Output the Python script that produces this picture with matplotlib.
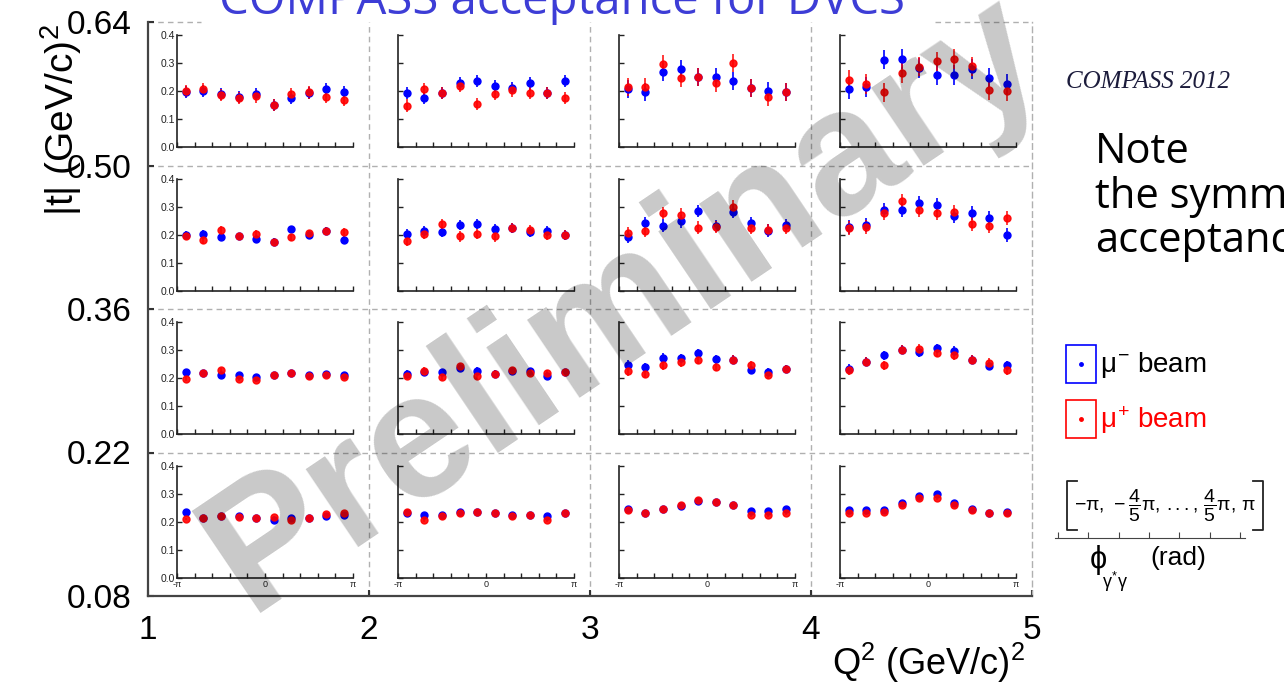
import numpy as np
import matplotlib
matplotlib.use("Agg")
import matplotlib.pyplot as plt
from matplotlib.patches import Rectangle
from matplotlib.lines import Line2D

plt.rcParams['font.family'] = ['Liberation Sans', 'DejaVu Sans']
plt.rcParams['mathtext.fontset'] = 'custom'
plt.rcParams['mathtext.rm'] = 'Liberation Sans'
plt.rcParams['mathtext.it'] = 'Liberation Sans'

# bins
q2_edges = [1, 2, 3, 4, 5]
t_edges = [0.08, 0.22, 0.36, 0.50, 0.64]
phi_centers = np.array([-0.9, -0.7, -0.5, -0.3, -0.1, 0.1, 0.3, 0.5, 0.7, 0.9]) * np.pi

# acceptance, one list per Q2 bin; rows from highest |t| to lowest
minus_t1 = [
    [0.196, 0.200, 0.190, 0.179, 0.190, 0.150, 0.174, 0.194, 0.208, 0.196],
    [0.194, 0.174, 0.193, 0.229, 0.237, 0.217, 0.210, 0.227, 0.193, 0.235],
    [0.208, 0.198, 0.269, 0.279, 0.251, 0.251, 0.236, 0.210, 0.200, 0.196],
    [0.207, 0.214, 0.312, 0.314, 0.283, 0.257, 0.257, 0.279, 0.248, 0.225],
]
plus_t1 = [
    [0.199, 0.208, 0.185, 0.174, 0.181, 0.150, 0.189, 0.195, 0.180, 0.167],
    [0.148, 0.207, 0.193, 0.218, 0.154, 0.189, 0.202, 0.192, 0.193, 0.174],
    [0.215, 0.215, 0.295, 0.248, 0.251, 0.230, 0.299, 0.210, 0.179, 0.196],
    [0.240, 0.226, 0.195, 0.264, 0.287, 0.306, 0.315, 0.288, 0.204, 0.200],
]
minus_t2 = [
    [0.199, 0.202, 0.192, 0.193, 0.183, 0.175, 0.219, 0.198, 0.213, 0.180],
    [0.202, 0.214, 0.210, 0.234, 0.238, 0.219, 0.223, 0.210, 0.214, 0.197],
    [0.190, 0.240, 0.232, 0.247, 0.283, 0.230, 0.282, 0.240, 0.214, 0.234],
    [0.226, 0.235, 0.286, 0.289, 0.313, 0.306, 0.267, 0.276, 0.259, 0.197],
]
plus_t2 = [
    [0.193, 0.180, 0.216, 0.193, 0.202, 0.172, 0.190, 0.204, 0.213, 0.210],
    [0.177, 0.202, 0.239, 0.193, 0.203, 0.193, 0.223, 0.216, 0.199, 0.197],
    [0.205, 0.214, 0.277, 0.271, 0.225, 0.228, 0.300, 0.223, 0.217, 0.225],
    [0.222, 0.228, 0.277, 0.320, 0.289, 0.277, 0.279, 0.238, 0.232, 0.258],
]
minus_t3 = [
    [0.222, 0.217, 0.212, 0.211, 0.203, 0.210, 0.218, 0.210, 0.216, 0.212],
    [0.216, 0.220, 0.220, 0.235, 0.226, 0.216, 0.224, 0.224, 0.209, 0.222],
    [0.248, 0.240, 0.273, 0.271, 0.290, 0.268, 0.266, 0.228, 0.222, 0.233],
    [0.234, 0.259, 0.281, 0.301, 0.292, 0.306, 0.297, 0.266, 0.243, 0.246],
]
plus_t3 = [
    [0.198, 0.217, 0.227, 0.198, 0.193, 0.210, 0.218, 0.207, 0.211, 0.205],
    [0.209, 0.226, 0.204, 0.243, 0.209, 0.216, 0.229, 0.218, 0.217, 0.222],
    [0.224, 0.215, 0.245, 0.256, 0.264, 0.241, 0.266, 0.246, 0.211, 0.233],
    [0.227, 0.259, 0.246, 0.301, 0.305, 0.290, 0.281, 0.266, 0.255, 0.228],
]
minus_t4 = [
    [0.233, 0.211, 0.220, 0.219, 0.214, 0.205, 0.214, 0.211, 0.220, 0.224],
    [0.230, 0.225, 0.225, 0.235, 0.235, 0.230, 0.225, 0.225, 0.220, 0.230],
    [0.243, 0.232, 0.245, 0.257, 0.275, 0.268, 0.260, 0.239, 0.239, 0.245],
    [0.240, 0.240, 0.240, 0.265, 0.290, 0.300, 0.265, 0.245, 0.230, 0.235],
]
plus_t4 = [
    [0.209, 0.211, 0.220, 0.215, 0.214, 0.216, 0.204, 0.211, 0.227, 0.230],
    [0.235, 0.205, 0.220, 0.230, 0.235, 0.230, 0.220, 0.225, 0.205, 0.230],
    [0.240, 0.232, 0.245, 0.260, 0.278, 0.268, 0.260, 0.225, 0.225, 0.230],
    [0.230, 0.230, 0.235, 0.260, 0.285, 0.285, 0.260, 0.240, 0.230, 0.230],
]
# typical error bar half-length per Q2 bin
err_t1 = [0.022, 0.022, 0.032, 0.035]
err_t2 = [0.013, 0.018, 0.022, 0.025]
err_t3 = [0.008, 0.012, 0.015, 0.016]
err_t4 = [0.005, 0.006, 0.008, 0.008]

W, H = 1284, 685


def fx(px):
    return px / W


def fy(py):
    return 1 - py / H


fig = plt.figure(figsize=(12.84, 6.85), dpi=100)
ax = fig.add_axes([fx(148), fy(596), (1032 - 148) / W, (596 - 22) / H])
ax.set_xlim(q2_edges[0], q2_edges[-1])
ax.set_ylim(t_edges[0], t_edges[-1])
ax.set_xticks(q2_edges)
ax.set_yticks(t_edges)
ax.set_yticklabels([f'{v:.2f}' for v in t_edges])
ax.tick_params(direction='in', length=4, width=1.5, labelsize=24, color='#333333')
ax.tick_params(axis='y', pad=12)
ax.tick_params(axis='x', pad=14)
for s in ['left', 'bottom']:
    ax.spines[s].set_color('#444444')
    ax.spines[s].set_linewidth(1.6)
ax.spines['top'].set_visible(False)
ax.spines['right'].set_linestyle((0, (4, 3)))
ax.spines['right'].set_color('#b0b0b0')
ax.spines['right'].set_linewidth(1)

dash = dict(color='#b0b0b0', lw=1, linestyle=(0, (4, 3)), zorder=0)
for q in q2_edges[1:-1]:
    ax.axvline(q, **dash)
for t in t_edges[1:-1]:
    ax.axhline(t, **dash)
ax.axhline(t_edges[-1], xmax=0.06, clip_on=False, **dash)
ax.axhline(t_edges[-1], xmin=0.89, clip_on=False, **dash)

rows = [(minus_t1, plus_t1, err_t1), (minus_t2, plus_t2, err_t2),
        (minus_t3, plus_t3, err_t3), (minus_t4, plus_t4, err_t4)]
phi_ticks = np.linspace(-np.pi, np.pi, 11)

for r, (mm, pp, ee) in enumerate(rows):
    t_lo = t_edges[3 - r]
    for c in range(4):
        q_lo = q2_edges[c]
        iax = ax.inset_axes([q_lo + 0.131, t_lo + 0.018, 0.796, 0.1093], transform=ax.transData)
        iax.set_facecolor('none')
        iax.errorbar(phi_centers, mm[c], yerr=ee[c], fmt='o', color='#0000ff', ms=5,
                     elinewidth=1.2, capsize=0)
        iax.errorbar(phi_centers, pp[c], yerr=ee[c], fmt='o', color='#ff0000', ms=5,
                     elinewidth=1.2, capsize=0, alpha=0.9)
        iax.set_xlim(-np.pi, np.pi)
        iax.set_ylim(0, 0.4)
        iax.set_xticks(phi_ticks)
        iax.set_yticks([0, 0.1, 0.2, 0.3, 0.4])
        for s in ['top', 'right']:
            iax.spines[s].set_visible(False)
        for s in ['left', 'bottom']:
            iax.spines[s].set_color('#222222')
            iax.spines[s].set_linewidth(1.2)
        iax.tick_params(direction='in', length=3.5, width=1, colors='#222222', labelsize=7.5, pad=1.5)
        if c == 0:
            iax.set_yticklabels(['0.0', '0.1', '0.2', '0.3', '0.4'])
        else:
            iax.set_yticklabels([])
        if r == 3:
            labs = [''] * 11
            labs[0], labs[5], labs[10] = '-π', '0', 'π'
            iax.set_xticklabels(labs, fontsize=6.5)
        else:
            iax.set_xticklabels([])

# axis titles
fig.text(fx(61), fy(120), r'|t| (GeV/c)$^2$', rotation=90, fontsize=28, ha='center', va='center')
fig.text(fx(1025), fy(675), r'Q$^2$ (GeV/c)$^2$', fontsize=26, ha='right', va='baseline')

# slide title, cut off at the top
fig.text(fx(562), fy(14), 'COMPASS acceptance for DVCS', fontsize=34, color='#3d3dd6',
         ha='center', va='baseline', family='Open Sans')

# right-hand annotations
fig.text(fx(1066), fy(82), 'COMPASS 2012', family='Liberation Serif', style='italic',
         fontsize=18, color='#1c1c3c', va='center')
for txt, yy in [('Note', 152), ('the symmetric', 197), ('acceptance', 241)]:
    fig.text(fx(1095), fy(yy), txt, fontsize=30, family='Open Sans', va='center')

for col, label, ytop in [('#0000ff', r'$\mu^{-}$ beam', 345), ('#ff0000', r'$\mu^{+}$ beam', 400)]:
    fig.add_artist(Rectangle((fx(1066), fy(ytop + 38)), 30 / W, 38 / H, fill=False,
                             edgecolor=col, lw=1.2, transform=fig.transFigure))
    fig.add_artist(Line2D([fx(1081)], [fy(ytop + 19)], marker='o', ms=2.5, color=col,
                          transform=fig.transFigure))
    fig.text(fx(1100), fy(ytop + 20), label, fontsize=20, va='center',
             color='black' if col == '#0000ff' else col)

# phi binning note: thin square brackets round the bin list
for x_out, x_in in [(1067, 1077), (1263, 1253)]:
    fig.add_artist(Line2D([fx(x_in), fx(x_out), fx(x_out), fx(x_in)],
                          [fy(481), fy(481), fy(530), fy(530)], color='#222222', lw=1.3,
                          transform=fig.transFigure))
fig.text(fx(1165), fy(506),
         r'$-\pi,\,-\dfrac{4}{5}\pi,\,\mathrm{...},\,\dfrac{4}{5}\pi,\,\pi$',
         fontsize=14, ha='center', va='center')
sax = fig.add_axes([fx(1055), fy(538), 190 / W, 0.01])
sax.set_facecolor('none')
sax.set_xlim(-0.1, 6.17)
sax.set_xticks(range(7))
sax.set_yticks([])
sax.set_xticklabels([])
for s in ['top', 'right', 'left']:
    sax.spines[s].set_visible(False)
sax.spines['bottom'].set_color('#444444')
sax.tick_params(direction='in', length=4, color='#444444')
fig.text(fx(1098), fy(560), r'$\phi$', fontsize=22, ha='center', va='center')
fig.text(fx(1115), fy(582), r'$\gamma^{*}\gamma$', fontsize=13, ha='center', va='center')
fig.text(fx(1178), fy(558), '(rad)', fontsize=19, ha='center', va='center')

# watermark
fig.text(fx(624), fy(304), 'Preliminary', rotation=34, fontsize=128, fontweight='bold',
         color='black', alpha=0.215, ha='center', va='center', zorder=10)

fig.savefig('out.png', dpi=100)
